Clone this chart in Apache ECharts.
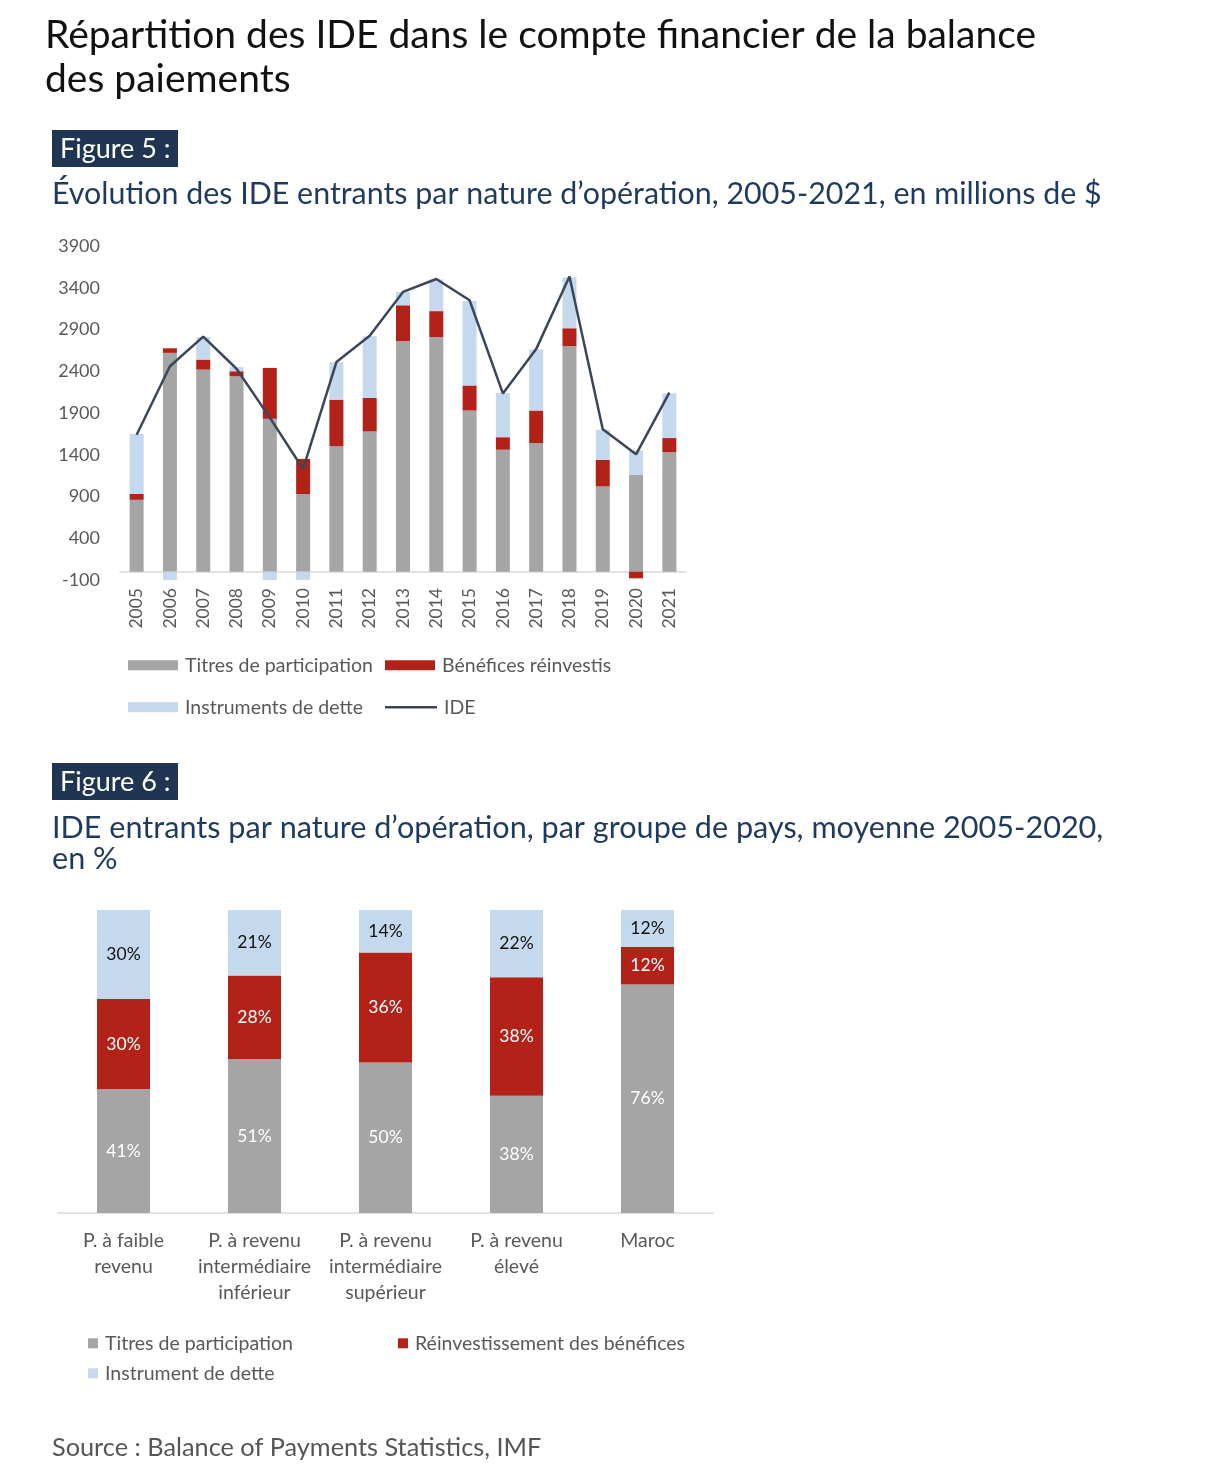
<!DOCTYPE html>
<html>
<head>
<meta charset="utf-8">
<script src="https://cdn.jsdelivr.net/npm/echarts@6/dist/echarts.min.js"></script>
<style>
html,body{margin:0;padding:0;background:#fff;}
#c{width:1210px;height:1482px;}
</style>
</head>
<body>
<div id="c"></div>
<script>
// ---- Figure 5 data ----
const years = ['2005','2006','2007','2008','2009','2010','2011','2012','2013','2014','2015','2016','2017','2018','2019','2020','2021'];
const titres = [860, 2620, 2420, 2340, 1830, 930, 1500, 1680, 2760, 2810, 1930, 1460, 1540, 2700, 1020, 1160, 1430];
const benefices = [70, 55, 120, 60, 610, 420, 560, 400, 430, 310, 300, 150, 390, 215, 320, -80, 170];
const dette = [720, -130, 270, 50, -130, -130, 450, 740, 160, 380, 1010, 530, 730, 610, 360, 290, 535];
const ide = [1640, 2460, 2815, 2430, 1845, 1230, 2510, 2825, 3350, 3505, 3250, 2135, 2665, 3535, 1705, 1405, 2145];
const yTicks = {min: -100, max: 3900, interval: 500};

// ---- Figure 6 data ----
const groupes = ['P. à faible\nrevenu', 'P. à revenu\nintermédiaire\ninférieur', 'P. à revenu\nintermédiaire\nsupérieur', 'P. à revenu\nélevé', 'Maroc'];
const titresPct = [40.9, 50.8, 49.7, 38.7, 75.4];
const reinvPct = [29.7, 27.6, 36.3, 39.1, 12.5];
const dettePct = [29.4, 21.6, 14.0, 22.2, 12.1];
const titresLbl = ['41%', '51%', '50%', '38%', '76%'];
const reinvLbl = ['30%', '28%', '36%', '38%', '12%'];
const detteLbl = ['30%', '21%', '14%', '22%', '12%'];

const GRAY = '#a5a5a5', RED = '#b22219', BLUE = '#c5d9ee', LINE = '#3b4759';
const AX = '#595959';
const TF = 'Lato';
const CF = 'Lato';
const NAVY = '#1f3a5f';

const chart = echarts.init(document.getElementById('c'), null, {renderer: 'canvas'});

function txt(x, y, text, size, color) {
  return {type: 'text', x: x, y: y, style: {text: text, font: 'normal ' + size + 'px ' + TF, fill: color, verticalAlign: 'middle', align: 'left'}};
}
function leg(name, left, cy, w, h, size, extra) {
  const l = {data: [name], left: left, top: cy - size * 0.6 + 2, padding: 0, icon: 'rect', itemWidth: w, itemHeight: h, itemGap: 0,
    textStyle: {fontFamily: CF, fontSize: size, color: AX, padding: [0, 0, 0, 2]}, selectedMode: false};
  return Object.assign(l, extra || {});
}

const option = {
  backgroundColor: '#fff',
  animation: false,
  graphic: [
    txt(45, 35, 'Répartition des IDE dans le compte financier de la balance', 39, '#111'),
    txt(45, 79, 'des paiements', 39, '#111'),
    {type: 'rect', shape: {x: 52, y: 130, width: 126, height: 37}, style: {fill: '#1f3552'}},
    txt(60, 149, 'Figure 5 :', 27, '#fff'),
    txt(52, 194, 'Évolution des IDE entrants par nature d’opération, 2005-2021, en millions de $', 30.4, NAVY),
    {type: 'rect', shape: {x: 52, y: 763, width: 126, height: 37}, style: {fill: '#1f3552'}},
    txt(60, 782, 'Figure 6 :', 27, '#fff'),
    txt(52, 828, 'IDE entrants par nature d’opération, par groupe de pays, moyenne 2005-2020,', 30.6, NAVY),
    txt(52, 859, 'en %', 30.6, NAVY),
    txt(52, 1448, 'Source : Balance of Payments Statistics, IMF', 25.3, '#555')
  ],
  legend: [
    leg('Titres de participation', 128, 665, 50, 10, 19.5),
    leg('Bénéfices réinvestis', 385, 665, 50, 10, 19.5),
    leg('Instruments de dette', 128, 707, 50, 10, 19.5),
    leg('IDE', 385, 707, 52, 2.5, 19.5, {itemStyle: {color: LINE}}),
    leg('Titres de participation', 88, 1343, 10, 10, 19.5),
    leg('Réinvestissement des bénéfices', 398, 1343, 10, 10, 19.5),
    leg('Instrument de dette', 88, 1373, 10, 10, 19.5)
  ],
  grid: [
    {left: 120, right: 524, top: 246, bottom: 902, containLabel: false},
    {left: 58, right: 497, top: 910, bottom: 269, containLabel: false}
  ],
  xAxis: [
    {type: 'category', gridIndex: 0, data: years, axisTick: {show: false},
     axisLine: {onZero: true, lineStyle: {color: '#d9d9d9', width: 1.5}},
     axisLabel: {rotate: 90, fontFamily: CF, fontSize: 17.5, color: AX, margin: 8, interval: 0}},
    {type: 'category', gridIndex: 1, data: groupes, axisTick: {show: false},
     axisLine: {lineStyle: {color: '#d9d9d9', width: 1.5}},
     axisLabel: {fontFamily: CF, fontSize: 19.5, color: AX, lineHeight: 26, margin: 15, interval: 0}}
  ],
  yAxis: [
    {type: 'value', gridIndex: 0, min: yTicks.min, max: yTicks.max, interval: yTicks.interval,
     splitLine: {show: false}, axisLine: {show: false}, axisTick: {show: false},
     axisLabel: {fontFamily: CF, fontSize: 18, color: AX, margin: 20, formatter: v => String(v)}},
    {type: 'value', gridIndex: 1, min: 0, max: 100, show: false, splitLine: {show: false}}
  ],
  series: [
    {name: 'Titres de participation', type: 'bar', stack: 'a', xAxisIndex: 0, yAxisIndex: 0, barWidth: 14, data: titres, itemStyle: {color: GRAY}},
    {name: 'Bénéfices réinvestis', type: 'bar', stack: 'a', xAxisIndex: 0, yAxisIndex: 0, barWidth: 14, data: benefices, itemStyle: {color: RED}},
    {name: 'Instruments de dette', type: 'bar', stack: 'a', xAxisIndex: 0, yAxisIndex: 0, barWidth: 14, data: dette, itemStyle: {color: BLUE}},
    {name: 'IDE', type: 'line', xAxisIndex: 0, yAxisIndex: 0, data: ide, symbol: 'none', showSymbol: false, lineStyle: {color: LINE, width: 2.5}, itemStyle: {color: LINE}, z: 5},
    {name: 'Titres de participation', type: 'bar', stack: 'b', xAxisIndex: 1, yAxisIndex: 1, barWidth: 53, data: titresPct, itemStyle: {color: GRAY},
     label: {show: true, position: 'inside', fontFamily: CF, fontSize: 17.5, color: '#fff', formatter: p => titresLbl[p.dataIndex]}},
    {name: 'Réinvestissement des bénéfices', type: 'bar', stack: 'b', xAxisIndex: 1, yAxisIndex: 1, barWidth: 53, data: reinvPct, itemStyle: {color: RED},
     label: {show: true, position: 'inside', fontFamily: CF, fontSize: 17.5, color: '#fff', formatter: p => reinvLbl[p.dataIndex]}},
    {name: 'Instrument de dette', type: 'bar', stack: 'b', xAxisIndex: 1, yAxisIndex: 1, barWidth: 53, data: dettePct, itemStyle: {color: BLUE},
     label: {show: true, position: 'inside', fontFamily: CF, fontSize: 17.5, color: '#111', formatter: p => detteLbl[p.dataIndex]}}
  ]
};
chart.setOption(option);
</script>
</body>
</html>
